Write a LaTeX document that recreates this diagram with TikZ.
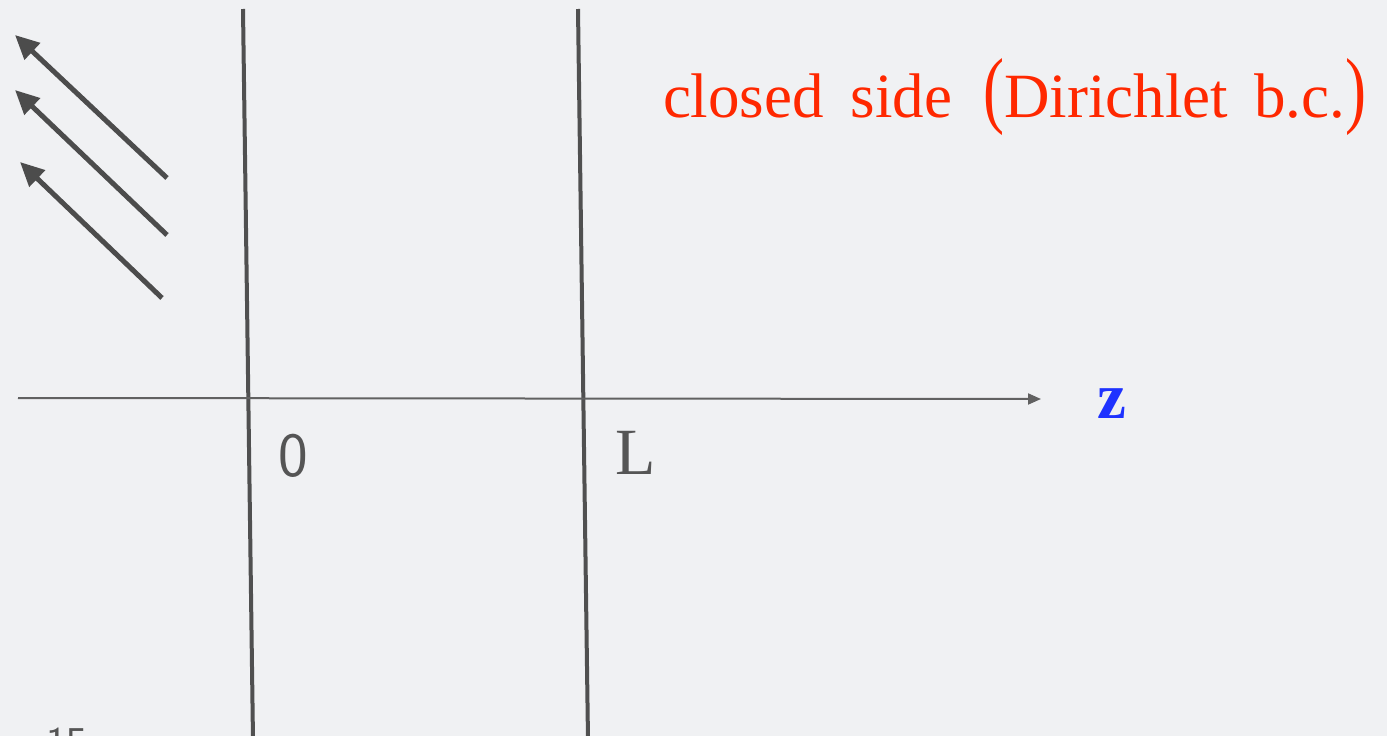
\documentclass[tikz,border=0pt]{standalone}
\usepackage{fontspec}
\setmainfont{Liberation Serif}
\usetikzlibrary{arrows.meta}
\definecolor{bgc}{RGB}{240,241,243}
\definecolor{linec}{RGB}{80,80,80}
\definecolor{redc}{RGB}{255,40,0}
\definecolor{bluec}{RGB}{30,50,255}
\definecolor{labc}{RGB}{85,85,85}
\tikzset{
  wall/.style={draw=linec,line width=4pt},
  axisline/.style={draw=linec!90,line width=2pt,-{Triangle[length=13pt,width=11pt]}},
  ray/.style={draw=linec!95!black,line width=5pt,-{Triangle[length=24pt,width=22pt]}},
  lab/.style={inner sep=0pt,outer sep=0pt}
}
\newcommand{\bigparen}[1]{\scalebox{1}[1.35]{#1}}
\begin{document}
\begin{tikzpicture}[x=1pt,y=-1pt]
\fill[bgc] (0,0) rectangle (1387,736);
\useasboundingbox (0,0) rectangle (1387,736);
% walls
\coordinate (w0t) at (243,9);
\coordinate (w0b) at (253,740);
\coordinate (wLt) at (578,9);
\coordinate (wLb) at (588,740);
\draw[wall] (w0t) -- (w0b);
\draw[wall] (wLt) -- (wLb);
% axis
\coordinate (ax0) at (18,398);
\coordinate (ax1) at (1041,399);
\draw[axisline] (ax0) -- (ax1);
% rays
\coordinate (r1s) at (167,178); \coordinate (r1e) at (15,35);
\coordinate (r2s) at (167,235); \coordinate (r2e) at (15,90);
\coordinate (r3s) at (162,298); \coordinate (r3e) at (20,162);
\draw[ray] (r1s) -- (r1e);
\draw[ray] (r2s) -- (r2e);
\draw[ray] (r3s) -- (r3e);
% labels
\node[lab,anchor=base west,text=labc] (zero) at (278,476) {\sffamily\fontsize{63}{70}\selectfont 0};
\node[lab,anchor=base west,text=labc] (ell) at (615,474) {\fontsize{66}{70}\selectfont L};
\node[lab,anchor=base west,text=bluec] (zz) at (1097,418) {\fontsize{65}{70}\selectfont\bfseries z};
\node[lab,anchor=base west,text=redc] (bc) at (663,117) {\fontsize{63}{70}\selectfont closed\hspace{27pt}side\hspace{31pt}\bigparen{(}Dirichlet\hspace{26pt}b.c.\bigparen{)}};
\node[lab,anchor=base west,text=labc] (pg) at (46,757) {\sffamily\fontsize{44}{50}\selectfont 15};
\end{tikzpicture}
\end{document}
